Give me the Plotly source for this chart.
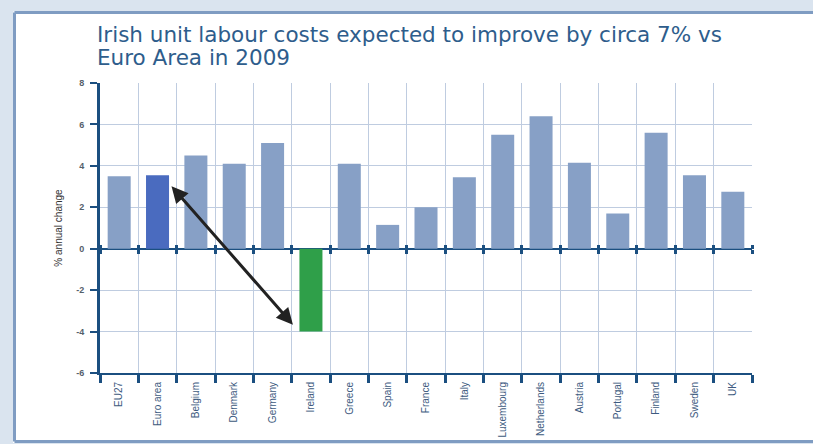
import plotly.graph_objects as go

categories = ["EU27", "Euro area", "Belgium", "Denmark", "Germany", "Ireland", "Greece",
              "Spain", "France", "Italy", "Luxembourg", "Netherlands", "Austria",
              "Portugal", "Finland", "Sweden", "UK"]
values = [3.5, 3.55, 4.5, 4.1, 5.1, -4.0, 4.1, 1.15, 2.0, 3.45, 5.5, 6.4, 4.15, 1.7, 5.6, 3.55, 2.75]
y_ticks = [-6, -4, -2, 0, 2, 4, 6, 8]
y_tick_text = ["-6", "-4", "-2", "0", "2", "4", "6", "8"]

LIGHT = "#87a0c6"
EURO = "#4a6bbf"
IRL = "#2f9f49"
AXIS = "#1b4f80"
GRID = "#bfcce0"
OUTER = "#dae4ef"
FRAME = "#7f9cc2"

colors = [EURO if c == "Euro area" else IRL if c == "Ireland" else LIGHT for c in categories]

W, H = 813, 444
L, R, T, B = 100, 61, 83, 71
pw, ph = W - L - R, H - T - B

def px_x(p):
    return (p - L) / pw

def px_y(p):
    return (H - B - p) / ph

fig = go.Figure()
fig.add_trace(go.Bar(x=categories, y=values, marker=dict(color=colors, line=dict(width=0)),
                     hoverinfo="x+y"))
# invisible helper traces to carry tick marks on the zero line
for ax in ["x2", "x3"]:
    fig.add_trace(go.Scatter(x=categories, y=values, xaxis=ax, mode="markers",
                             marker=dict(opacity=0), hoverinfo="skip", showlegend=False))

zero_pos = (0 - y_ticks[0]) / (y_ticks[-1] - y_ticks[0])

frame_shapes = [
    # outer light-blue strips
    dict(type="rect", x0=px_x(-5), x1=px_x(W + 5), y0=px_y(11.5), y1=px_y(-5)),
    dict(type="rect", x0=px_x(-5), x1=px_x(13), y0=px_y(H + 5), y1=px_y(-5)),
    dict(type="rect", x0=px_x(-5), x1=px_x(W + 5), y0=px_y(H + 5), y1=px_y(443)),
]
for s in frame_shapes:
    s.update(xref="paper", yref="paper", layer="below", fillcolor=OUTER, line=dict(width=0))
line_shapes = [
    dict(x0=px_x(14.5), x1=px_x(W + 5), y0=px_y(12.5), y1=px_y(12.5)),
    dict(x0=px_x(14.5), x1=px_x(14.5), y0=px_y(12.5), y1=px_y(441.5)),
    dict(x0=px_x(14.5), x1=px_x(W + 5), y0=px_y(441.5), y1=px_y(441.5)),
]
for s in line_shapes:
    s.update(type="line", xref="paper", yref="paper", layer="below",
             line=dict(color=FRAME, width=3))

fig.update_layout(
    width=W, height=H,
    margin=dict(l=L, r=R, t=T, b=B, autoexpand=False),
    paper_bgcolor="white",
    plot_bgcolor="white",
    showlegend=False,
    bargap=0.4,
    font=dict(family="Liberation Sans, Arial", color="#444"),
    xaxis=dict(
        type="category", range=[-0.5, len(categories) - 0.5], automargin=False,
        tickson="boundaries", ticks="outside", ticklen=8, tickwidth=3, tickcolor=AXIS,
        showline=True, linecolor=AXIS, linewidth=2,
        showgrid=True, gridcolor=GRID, gridwidth=1.2,
        tickangle=-90, tickfont=dict(size=10, color="#3d5a80"),
        ticklabelstandoff=3,
    ),
    xaxis2=dict(
        type="category", matches="x", overlaying="x", anchor="free", position=zero_pos,
        side="bottom", tickson="boundaries", ticks="outside", ticklen=4, tickwidth=3,
        tickcolor=AXIS, showline=False, showgrid=False, showticklabels=False,
    ),
    xaxis3=dict(
        type="category", matches="x", overlaying="x", anchor="free", position=zero_pos,
        side="top", tickson="boundaries", ticks="outside", ticklen=4, tickwidth=3,
        tickcolor=AXIS, showline=False, showgrid=False, showticklabels=False,
    ),
    yaxis=dict(
        range=[y_ticks[0], y_ticks[-1]], tickvals=y_ticks, ticktext=y_tick_text,
        automargin=False,
        ticks="outside", ticklen=7, tickwidth=2, tickcolor=AXIS,
        showline=True, linecolor=AXIS, linewidth=3,
        showgrid=True, gridcolor=GRID, gridwidth=1.2,
        zeroline=True, zerolinecolor=AXIS, zerolinewidth=2,
        tickfont=dict(size=9, color="#55606b", weight="bold"),
        ticklabelstandoff=4,
        title=dict(text="% annual change", font=dict(size=10, color="#333"), standoff=12),
    ),
    shapes=frame_shapes + line_shapes,
)

title_lines = ["Irish unit labour costs expected to improve by circa 7% vs", "Euro Area in 2009"]
for i, line in enumerate(title_lines):
    fig.add_annotation(text=line, xref="paper", yref="paper", x=px_x(95), y=px_y(35 + 22.5 * i),
                       xanchor="left", yanchor="middle", showarrow=False,
                       font=dict(family="DejaVu Sans", size=21.5, color="#2e5d8c"))

i_euro = categories.index("Euro area")
i_irl = categories.index("Ireland")
fig.add_annotation(text="", x=i_irl - 0.47, y=values[i_irl] + 0.33,
                   ax=i_euro + 0.33, ay=values[i_euro] - 0.46,
                   xref="x", yref="y", axref="x", ayref="y",
                   showarrow=True, arrowside="end+start", arrowhead=2, startarrowhead=2,
                   arrowsize=1.1, startarrowsize=1.1, arrowwidth=3, arrowcolor="#222")

fig.write_html("out.html")
